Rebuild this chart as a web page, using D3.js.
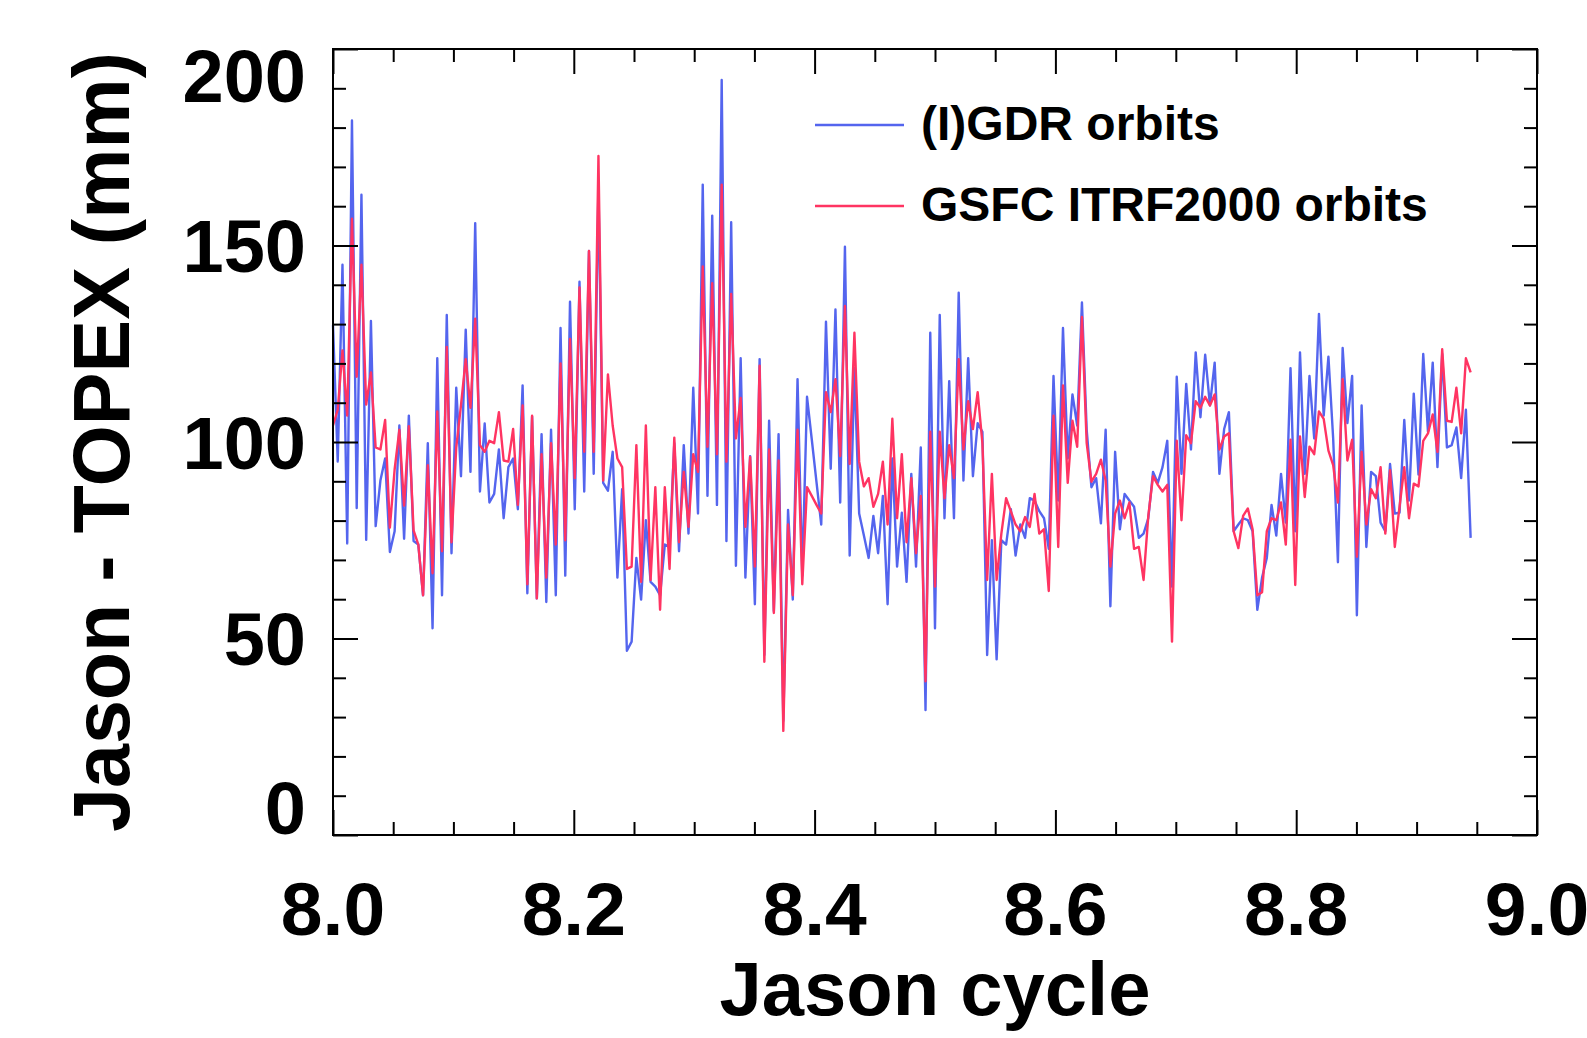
<!DOCTYPE html>
<html>
<head>
<meta charset="utf-8">
<script src="https://cdn.jsdelivr.net/npm/d3@7"></script>
<style>
  html, body { margin: 0; padding: 0; background: #fff; }
  svg { display: block; }
  text { font-family: "Liberation Sans", Arial, Helvetica, sans-serif; font-weight: bold; fill: #000; }
</style>
</head>
<body>
<svg id="chart" width="1587" height="1038"></svg>
<script>
// ---- data ----
const passesPerCycle = 254;
const startCycle = 8;
const igdr = [
  129.7, 95, 145.1, 74.2, 181.8, 83.2, 162.9, 75.1, 130.8, 78.6,
  90.2, 95.8, 72, 77.3, 104.2, 75.4, 106.7, 74.8, 73.9, 61,
  99.7, 52.6, 121.3, 61, 132.3, 71.7, 113.8, 91.3, 128.6, 92.4,
  155.7, 87.4, 104.7, 84.6, 86.8, 98.1, 80.6, 93.6, 95.8, 82.9,
  114.4, 61.5, 106.5, 60.2, 102, 59.3, 103.1, 61, 129, 66,
  135.7, 82.9, 140.8, 87.4, 148.6, 91.9, 165, 89.6, 87.6, 97.5,
  65.5, 88, 46.9, 49.2, 70.5, 59.9, 80.1, 64.4, 63.2, 61,
  73.9, 73.3, 99.7, 72.2, 99.2, 76.7, 113.8, 81.8, 165.5, 86.3,
  157.6, 84, 192.1, 74.8, 155.9, 68.5, 121.3, 65.5, 96.4, 58.7,
  121.1, 45.8, 105.4, 57, 102, 29, 82.7, 59.9, 116, 66,
  111.5, 100.7, 89.8, 79, 130.6, 93.2, 133.7, 84.6, 149.7, 71.1,
  118.8, 81.8, 76.2, 70.5, 81.2, 71.7, 86.3, 58.7, 95.8, 68.3,
  82, 64.4, 91.9, 68.3, 98.6, 31.8, 127.8, 52.6, 132.3, 80.6,
  115.5, 80.6, 138, 90.2, 121.3, 91.3, 104.8, 102.6, 45.8, 75,
  44.7, 75, 73.9, 82.9, 71.1, 79, 75.6, 85.7, 85.1, 82.4,
  80.6, 72.8, 116.8, 85.1, 129, 95.8, 112.1, 104.2, 135.5, 103.1,
  88.5, 90.8, 79.3, 103.1, 58.2, 97.5, 77.8, 86.8, 85.1, 83.5,
  75.6, 76.7, 80.6, 92.4, 89.6, 93.6, 100.3, 63.2, 116.6, 91.9,
  114.8, 98.1, 122.8, 106.3, 122.2, 109.3, 120.2, 91.9, 103.3, 107.6,
  77.3, 79, 80.6, 80.1, 77.3, 57.3, 65.5, 70.5, 84, 76.2,
  91.9, 79.5, 118.8, 77.3, 122.8, 91.9, 116.8, 100.9, 132.6, 106.7,
  121.7, 100.9, 69.4, 123.9, 104.8, 116.8, 55.9, 109.3, 73.3, 92.4,
  91.3, 79.5, 77.3, 94.4, 81.8, 82, 105.6, 85.1, 112.3, 91.7,
  122.4, 102.6, 120.2, 93.6, 122.4, 98.6, 99.2, 103.7, 90.8, 108.2,
  75.6
];
const gsfc = [
  104.2, 108.2, 123.3, 106.7, 156.8, 116.6, 145.1, 109.5, 117.7, 98.6,
  98.1, 105.6, 78.2, 93, 103.1, 83.8, 104, 77.5, 73.9, 61,
  94.1, 66.6, 107.8, 72.2, 124.2, 74.5, 98.6, 109.3, 121.1, 108.7,
  131.4, 99.2, 97.5, 100.3, 99.7, 107.6, 95.3, 95, 103.3, 84,
  109.3, 63.8, 106.7, 60.2, 96.9, 65.5, 99.7, 73.9, 120, 75,
  126.2, 90.8, 139.3, 97.5, 148.6, 97.5, 172.8, 90.2, 117.2, 104.2,
  95.8, 93.6, 67.7, 68.3, 99.2, 64.4, 104.2, 64.9, 88.5, 57.3,
  88.5, 67.7, 101.1, 74.5, 92.4, 78.4, 96.9, 92.4, 144.7, 98.8,
  140.4, 96.9, 165.5, 95, 137.7, 100.9, 111.2, 78.4, 96.2, 68.3,
  119.4, 44.1, 98.1, 56.5, 95.3, 26.5, 79, 61, 103.1, 63.8,
  88.5, 86.3, 84, 81.8, 112.7, 107.6, 116, 96.4, 134.6, 94.4,
  127.8, 95, 88.7, 90.8, 83.5, 86.8, 95, 79, 105.9, 80.6,
  96.9, 74.5, 90.8, 71.7, 86.3, 39.1, 102.6, 63.2, 102.6, 85.7,
  99.2, 90.8, 121.1, 98.1, 110.4, 103.3, 112.7, 99.7, 64.9, 91.9,
  64.9, 76.7, 85.7, 82.4, 79, 77.3, 80.9, 78.4, 86.8, 76.7,
  77.8, 62.1, 106.7, 73.3, 114.4, 89.6, 105.4, 98.8, 131.8, 99.7,
  89.9, 91.9, 95.5, 90.2, 68.3, 81.8, 85.1, 80.6, 84.6, 72.8,
  73.3, 64.9, 81.2, 91.3, 89.1, 87.4, 89.1, 49.2, 100.3, 80.1,
  101.7, 99.7, 110.4, 108.7, 111.5, 109.3, 112.1, 98.1, 101.4, 102.2,
  77.3, 73, 81.2, 83.1, 77.8, 61, 61.8, 77.3, 80.6, 80.1,
  84.6, 73.9, 100.6, 63.6, 101.4, 86, 98.8, 96.9, 107.8, 105.9,
  97.8, 94.1, 84.6, 116, 95.3, 100.6, 70.8, 97.5, 79, 88,
  85.7, 93.6, 76.7, 92.8, 73.3, 83.5, 93.6, 80.6, 89.4, 88.7,
  100.3, 102.2, 107, 97.5, 123.6, 105.4, 105.1, 113.8, 102.2, 121.3,
  117.7
];
const xMajorTicks = [8.0, 8.2, 8.4, 8.6, 8.8, 9.0];
const xMinorTicks = [8.05, 8.1, 8.15, 8.25, 8.3, 8.35, 8.45, 8.5, 8.55, 8.65, 8.7, 8.75, 8.85, 8.9, 8.95];
const yMajorTicks = [0, 50, 100, 150, 200];
const yMinorTicks = [10, 20, 30, 40, 60, 70, 80, 90, 110, 120, 130, 140, 160, 170, 180, 190];
const seriesNames = ["(I)GDR orbits", "GSFC ITRF2000 orbits"];
const seriesColors = ["#5465ee", "#ff3462"];
const xTitle = "Jason cycle";
const yTitle = "Jason - TOPEX (mm)";

// ---- layout ----
const svg = d3.select("#chart");
const L = 333, R = 1537, T = 49, B = 835;
const x = d3.scaleLinear().domain([8, 9]).range([L, R]);
const y = d3.scaleLinear().domain([0, 200]).range([B, T]);

const seriesData = [igdr, gsfc].map(arr => arr.map((v, i) => ({ c: startCycle + i / passesPerCycle, v })));

const line = d3.line().x(d => x(d.c)).y(d => y(d.v));

// lines
const gLines = svg.append("g");
seriesData.forEach((s, k) => {
  gLines.append("path")
    .datum(s)
    .attr("d", line)
    .attr("fill", "none")
    .attr("stroke", seriesColors[k])
    .attr("stroke-width", 2.4)
    .attr("stroke-linejoin", "round");
});

// axes ticks (inward on all sides)
function styleAxis(g) {
  g.select(".domain").remove();
  g.selectAll(".tick line").attr("stroke", "#000").attr("stroke-width", 2);
  g.selectAll(".tick text").remove();
}
const MAJ = 25, MIN = 13;
svg.append("g").attr("transform", `translate(0,${B})`)
  .call(d3.axisBottom(x).tickValues(xMajorTicks).tickSize(-MAJ).tickFormat("")).call(styleAxis);
svg.append("g").attr("transform", `translate(0,${B})`)
  .call(d3.axisBottom(x).tickValues(xMinorTicks).tickSize(-MIN).tickFormat("")).call(styleAxis);
svg.append("g").attr("transform", `translate(0,${T})`)
  .call(d3.axisTop(x).tickValues(xMajorTicks).tickSize(-MAJ).tickFormat("")).call(styleAxis);
svg.append("g").attr("transform", `translate(0,${T})`)
  .call(d3.axisTop(x).tickValues(xMinorTicks).tickSize(-MIN).tickFormat("")).call(styleAxis);
svg.append("g").attr("transform", `translate(${L},0)`)
  .call(d3.axisLeft(y).tickValues(yMajorTicks).tickSize(-MAJ).tickFormat("")).call(styleAxis);
svg.append("g").attr("transform", `translate(${L},0)`)
  .call(d3.axisLeft(y).tickValues(yMinorTicks).tickSize(-MIN).tickFormat("")).call(styleAxis);
svg.append("g").attr("transform", `translate(${R},0)`)
  .call(d3.axisRight(y).tickValues(yMajorTicks).tickSize(-MAJ).tickFormat("")).call(styleAxis);
svg.append("g").attr("transform", `translate(${R},0)`)
  .call(d3.axisRight(y).tickValues(yMinorTicks).tickSize(-MIN).tickFormat("")).call(styleAxis);

// frame
svg.append("rect").attr("x", L).attr("y", T).attr("width", R - L).attr("height", B - T)
  .attr("fill", "none").attr("stroke", "#000").attr("stroke-width", 2);

// tick labels
const fmtX = d3.format(".1f");
svg.append("g").selectAll("text").data(xMajorTicks).join("text")
  .attr("x", d => x(d)).attr("y", 908).attr("dy", "0.36em")
  .attr("text-anchor", "middle").attr("font-size", 75)
  .text(d => fmtX(d));

const yLabelShift = v => v === 200 ? 26 : (v === 0 ? -28 : 0);
svg.append("g").selectAll("text").data(yMajorTicks).join("text")
  .attr("x", 306).attr("y", d => y(d) + yLabelShift(d)).attr("dy", "0.36em")
  .attr("text-anchor", "end").attr("font-size", 74)
  .text(d => d);

// axis titles
svg.append("text").attr("x", (L + R) / 2).attr("y", 1015)
  .attr("text-anchor", "middle").attr("font-size", 76).text(xTitle);
svg.append("text").attr("transform", `translate(129,${(T + B) / 2}) rotate(-90)`)
  .attr("text-anchor", "middle").attr("font-size", 79).text(yTitle);

// legend
const legY = [125, 206];
const gLeg = svg.append("g");
seriesNames.forEach((name, k) => {
  gLeg.append("line").attr("x1", 815).attr("x2", 904).attr("y1", legY[k]).attr("y2", legY[k])
    .attr("stroke", seriesColors[k]).attr("stroke-width", 2.4);
  gLeg.append("text").attr("x", 921).attr("y", legY[k] - 2).attr("dy", "0.36em")
    .attr("font-size", 48).text(name);
});
</script>
</body>
</html>
